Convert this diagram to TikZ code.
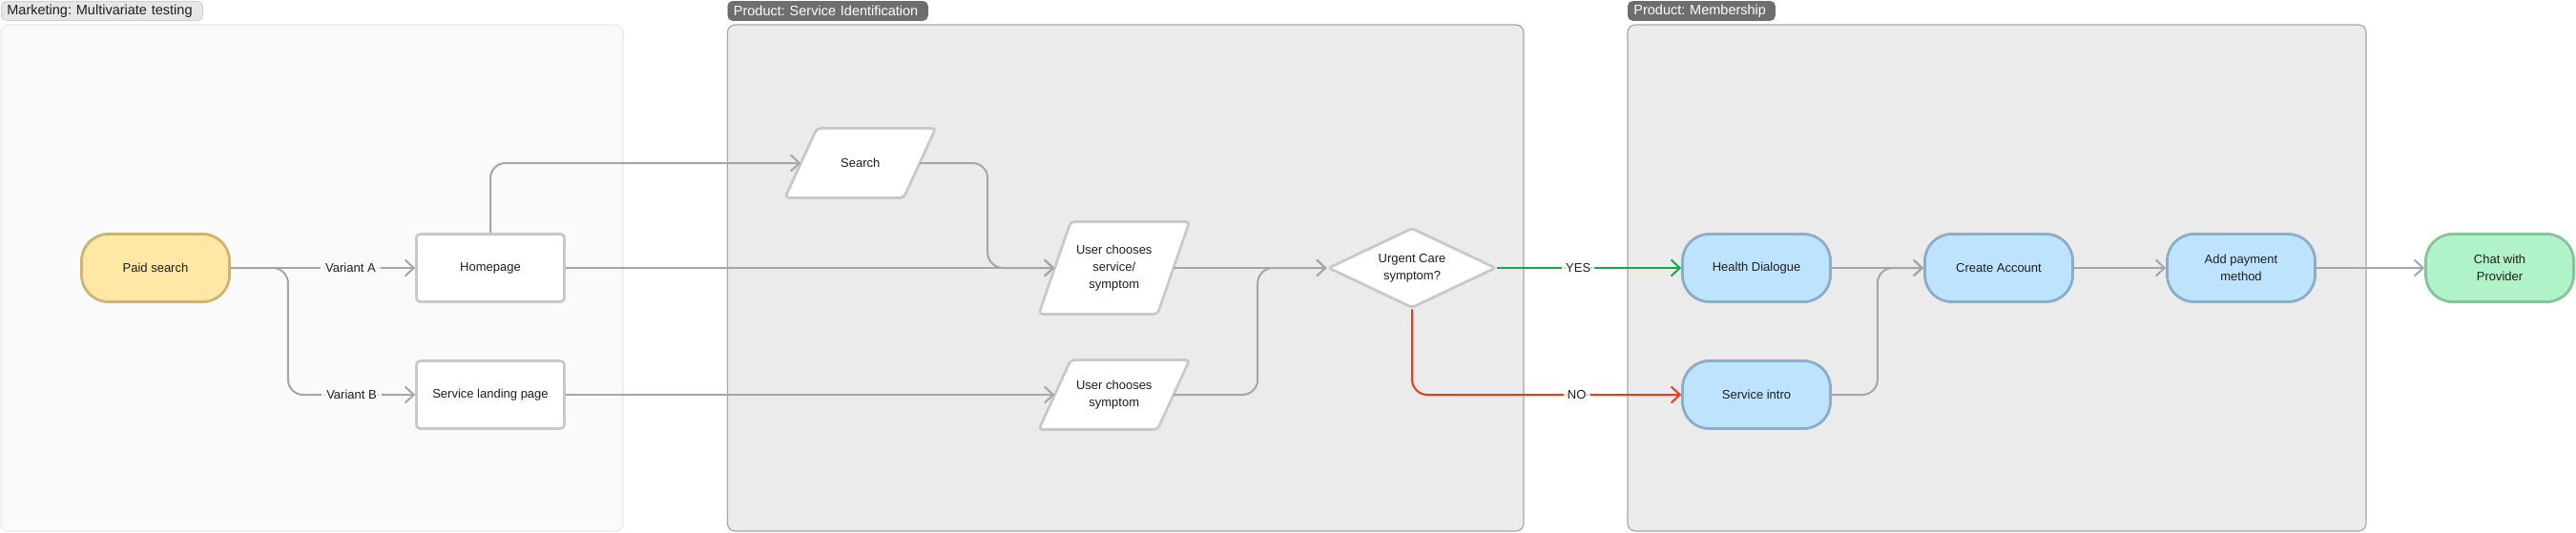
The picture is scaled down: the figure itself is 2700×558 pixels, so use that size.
\documentclass[tikz,border=0pt]{standalone}
\usepackage{fontspec}
\setmainfont{Liberation Sans}
\usetikzlibrary{arrows.meta,shapes.geometric,calc}
\frenchspacing
\definecolor{conncol}{HTML}{A6A6A6}
\definecolor{yescol}{HTML}{14A84A}
\definecolor{nocol}{HTML}{EE3A18}
\definecolor{wborder}{HTML}{C9C9C9}
\definecolor{yfill}{HTML}{FFE8A6}
\definecolor{yborder}{HTML}{CDB56F}
\definecolor{bfill}{HTML}{BEE3FD}
\definecolor{bborder}{HTML}{8CADC9}
\definecolor{gfill}{HTML}{B1F3C9}
\definecolor{gborder}{HTML}{84C49A}
\definecolor{pfill}{HTML}{EBEBEB}
\definecolor{pborder}{HTML}{A8A8A8}
\definecolor{mfill}{HTML}{FAFAFA}
\definecolor{mborder}{HTML}{EBEBEB}
\definecolor{plabel}{HTML}{6E6E6E}
\definecolor{mlabel}{HTML}{E6E6E6}
\definecolor{mlabelb}{HTML}{CFCFCF}
\definecolor{txt}{HTML}{1E1E1E}
\newcommand\paranode[5]{%
  \path[parashape] (#2-79,#3+#4/2) -- (#2-45.5,#3-#4/2) -- (#2+79,#3-#4/2) -- (#2+45.5,#3+#4/2) -- cycle;
  \node[paratext, minimum height=#4] (#1) at (#2,#3) {#5};
}
\begin{document}
\begin{tikzpicture}[x=1pt,y=-1pt,
  every node/.style={text=txt, font=\fontsize{13}{18}\selectfont},
  panelm/.style={draw=mborder, fill=mfill, line width=1.2pt, rounded corners=8pt},
  panelp/.style={draw=pborder, fill=pfill, line width=1.2pt, rounded corners=8pt},
  lblmk/.style={draw=mlabelb, fill=mlabel, line width=0.8pt, rounded corners=5pt, anchor=north west, inner xsep=6pt, inner ysep=0pt, minimum height=20pt, align=left, font=\fontsize{14.5}{16}\selectfont},
  lblpr/.style={lblmk, draw=plabel, fill=plabel, text=white},
  basebox/.style={line width=2.8pt, minimum width=155pt, minimum height=71pt, align=center, inner sep=0pt},
  wbox/.style={basebox, draw=wborder, fill=white, rounded corners=4pt},
  ybox/.style={basebox, draw=yborder, fill=yfill, rounded corners=28pt},
  bbox/.style={basebox, draw=bborder, fill=bfill, rounded corners=28pt},
  gbox/.style={basebox, draw=gborder, fill=gfill, rounded corners=28pt},
  parashape/.style={draw=wborder, fill=white, line width=2.8pt, rounded corners=4pt},
  paratext/.style={draw=none, inner sep=0pt, minimum width=124.5pt, align=center},
  dia/.style={diamond, aspect=2.06, draw=wborder, fill=white, line width=2.8pt, rounded corners=3pt, minimum width=176pt, minimum height=84pt, inner sep=0pt, align=center},
  conn/.style={draw=conncol, line width=2pt, rounded corners=16pt, -{Straight Barb[length=9pt,width=17pt]}},
  yesarr/.style={conn, draw=yescol},
  noarr/.style={conn, draw=nocol},
  clbm/.style={fill=mfill, inner xsep=5pt, inner ysep=2pt},
  clbw/.style={fill=white, inner xsep=4pt, inner ysep=2pt}
]
\useasboundingbox (0,0) rectangle (2700,558);
% panels
\path[panelm] (1,26) rectangle (653,557);
\path[panelp] (762.5,26) rectangle (1597,557);
\path[panelp] (1706,26) rectangle (2480,557);
\node[lblmk, text width=199pt] (lm) at (1,1) {Marketing: Multivariate testing};
\node[lblpr, text width=197.5pt] (ls) at (762.5,1) {Product: Service Identification};
\node[lblpr, text width=142pt] (lb) at (1706,1) {Product: Membership};
% nodes
\node[ybox] (paid) at (163,281) {Paid search};
\node[wbox] (home) at (514,281) {Homepage};
\node[wbox] (slp) at (514,414) {Service landing page};
\paranode{search}{901.75}{171}{73}{Search}
\paranode{ucss}{1167.75}{281}{97}{User chooses\\service/\\symptom}
\paranode{ucs}{1167.75}{414}{73}{User chooses\\symptom}
\node[dia] (urgent) at (1480,281) {Urgent Care\\symptom?};
\node[bbox] (hd) at (1841,281) {Health Dialogue};
\node[bbox] (si) at (1841,414) {Service intro};
\node[bbox] (ca) at (2095,281) {Create Account};
\node[bbox] (apm) at (2349,281) {Add payment\\method};
\node[gbox] (chat) at (2620,281) {Chat with\\Provider};
% connectors
\draw[conn] (paid.east) -- node[clbm, pos=0.65] {Variant A} (home.west);
\draw[conn] (paid.east) -- ([xshift=60pt]paid.east) |- node[clbm, pos=0.75] {Variant B} (slp.west);
\draw[conn] (home.north) |- (search.west);
\draw[conn] (search.east) -- ++(71,0) |- (ucss.west);
\draw[conn] (home.east) -- (ucss.west);
\draw[conn] (slp.east) -- (ucs.west);
\draw[conn] (ucs.east) -- ++(88,0) |- (urgent.west);
\draw[conn] (ucss.east) -- (urgent.west);
\draw[yesarr] (urgent.east) -- node[clbw, pos=0.44] {YES} (hd.west);
\draw[noarr] (urgent.south) |- node[clbw, pos=0.806] {NO} (si.west);
\draw[conn] (hd.east) -- (ca.west);
\draw[conn] (si.east) -- ++(48,0) |- (ca.west);
\draw[conn] (ca.east) -- (apm.west);
\draw[conn] (apm.east) -- (chat.west);
\end{tikzpicture}
\end{document}
